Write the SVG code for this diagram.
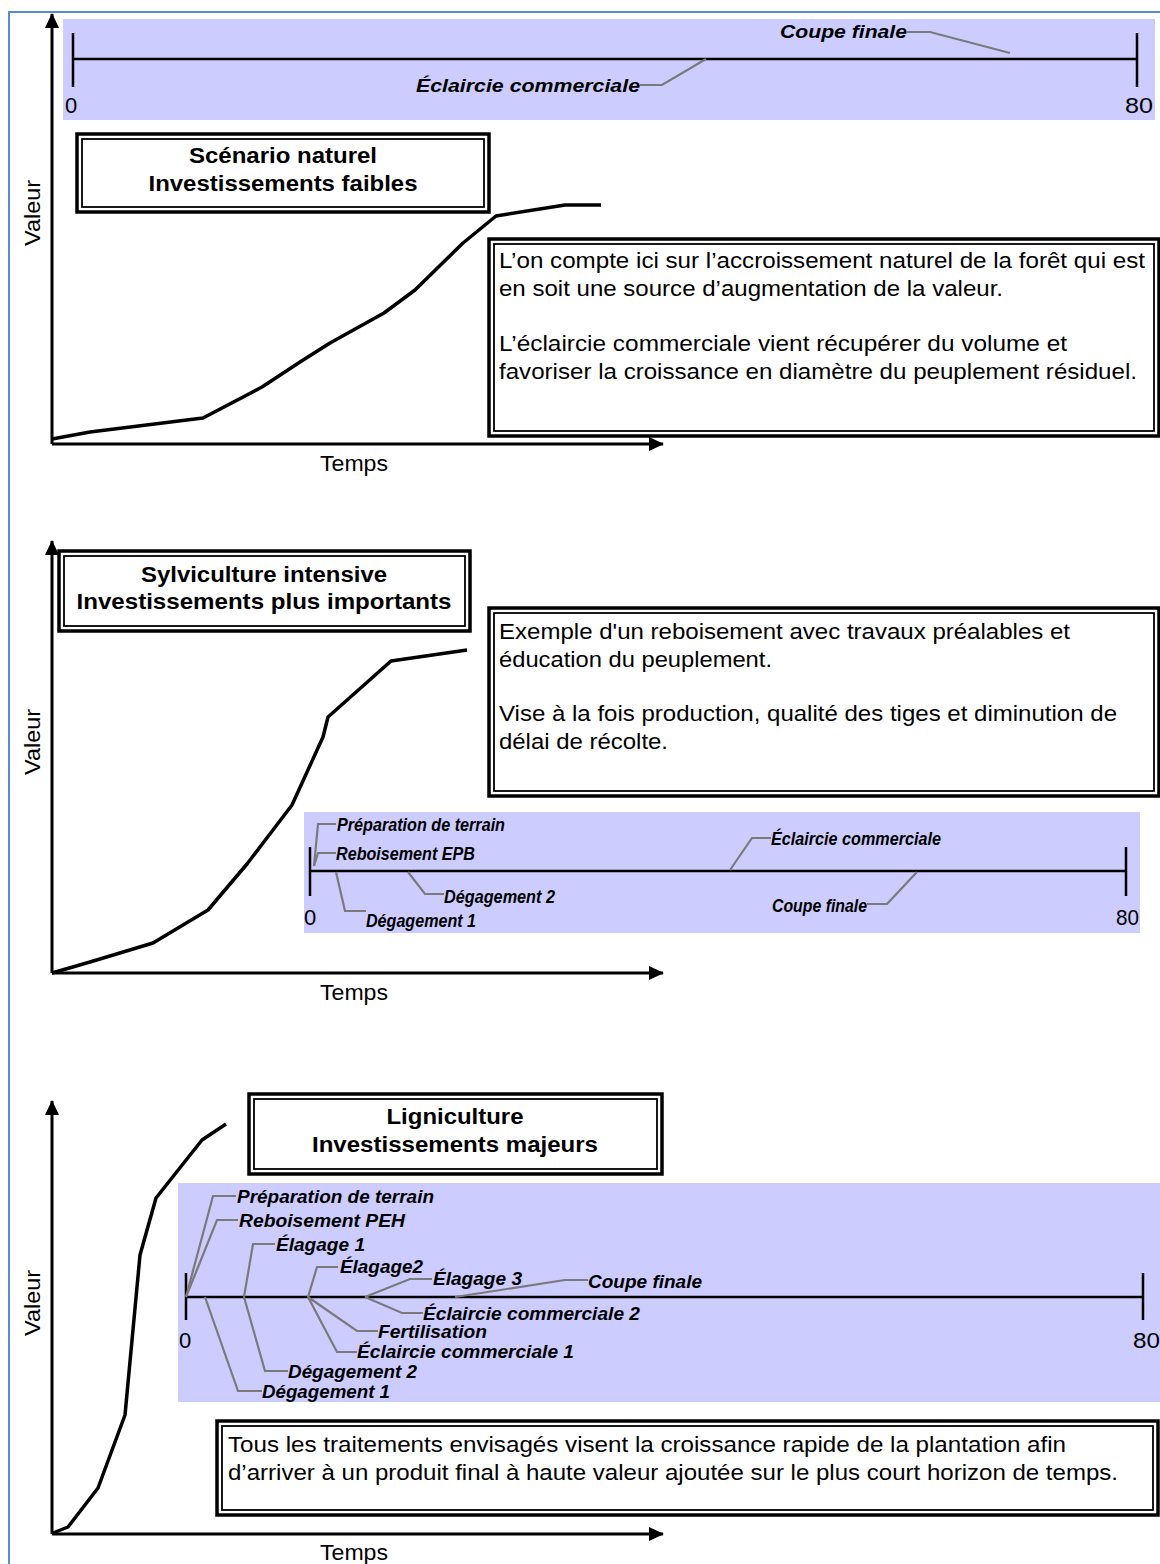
<svg xmlns="http://www.w3.org/2000/svg" width="1160" height="1564" viewBox="0 0 1160 1564">
  <style>
    .frame { stroke: #5b8bd4; stroke-width: 2; fill: none; }
    .axis { stroke: #000; stroke-width: 3; fill: none; }
    .curve { stroke: #000; stroke-width: 3.5; fill: none; stroke-linejoin: round; }
    .band { fill: #ccccff; }
    .tl { stroke: #000; stroke-width: 2.5; fill: none; }
    .lead { stroke: #7a7a7a; stroke-width: 2.2; fill: none; }
    .outer { fill: #fff; stroke: #000; stroke-width: 3.5; }
    .inner { fill: none; stroke: #000; stroke-width: 1.8; }
    .title { font-family: "Liberation Sans", Arial, sans-serif; font-weight: bold; font-size: 22px; fill: #000; text-anchor: middle; }
    .body { font-family: "Liberation Sans", Arial, sans-serif; font-size: 22px; fill: #000; }
    .axlbl { font-family: "Liberation Sans", Arial, sans-serif; font-size: 22px; fill: #000; }
    .num { font-family: "Liberation Sans", Arial, sans-serif; font-size: 22px; fill: #000; }
    .lbl { font-family: "Liberation Sans", Arial, sans-serif; font-weight: bold; font-style: italic; font-size: 18px; fill: #000; }
  </style>
  <defs>
    <marker id="arrow" markerUnits="userSpaceOnUse" markerWidth="16" markerHeight="14" refX="14" refY="7" orient="auto">
      <path d="M0,0 L15,7 L0,14 Z" fill="#000"/>
    </marker>
  </defs>

  <!-- page frame -->
  <path class="frame" d="M9,1564 V12 H1160"/>

  <!-- ===== Panel 1 : natural scenario ===== -->
  <g id="panel1-axes">
    <path class="axis" d="M52,444 V14" marker-end="url(#arrow)"/>
    <path class="axis" d="M52,444 H663" marker-end="url(#arrow)"/>
    <text class="axlbl" transform="translate(40,213) rotate(-90)" text-anchor="middle" textLength="66" lengthAdjust="spacingAndGlyphs">Valeur</text>
    <text class="axlbl" x="320" y="471" textLength="68" lengthAdjust="spacingAndGlyphs">Temps</text>
  </g>
  <g id="panel1-timeline">
    <rect class="band" x="63" y="19" width="1092" height="101"/>
    <path class="tl" d="M73,59 H1137 M73,33 V87 M1137,33 V87"/>
    <text class="num" x="65" y="113">0</text>
    <text class="num" x="1125" y="113" textLength="28" lengthAdjust="spacingAndGlyphs">80</text>
    <g id="p1-coupe">
      <path class="lead" d="M907,32 H930 L1010,53"/>
      <text class="lbl" x="780" y="38" font-size="19" textLength="127" lengthAdjust="spacingAndGlyphs">Coupe finale</text>
    </g>
    <g id="p1-eclaircie">
      <path class="lead" d="M640,85 H662 L706,59"/>
      <text class="lbl" x="416" y="92" font-size="19" textLength="224" lengthAdjust="spacingAndGlyphs">Éclaircie commerciale</text>
    </g>
  </g>
  <g id="panel1-title">
    <rect class="outer" x="77" y="134" width="412" height="78"/>
    <rect class="inner" x="82" y="139" width="402" height="68"/>
    <text class="title" x="283" y="163" textLength="188" lengthAdjust="spacingAndGlyphs">Scénario naturel</text>
    <text class="title" x="283" y="191" textLength="269" lengthAdjust="spacingAndGlyphs">Investissements faibles</text>
  </g>
  <path id="panel1-curve" class="curve" d="M52,439 L90,432 L203,418 L262,387 L300,362 L330,343 L384,313 L415,290 L463,243 L496,216 L565,205 L601,205"/>
  <g id="panel1-note">
    <rect class="outer" x="489" y="239" width="670" height="197"/>
    <rect class="inner" x="494" y="244" width="660" height="187"/>
    <text class="body" x="499" y="268" textLength="646" lengthAdjust="spacingAndGlyphs">L’on compte ici sur l’accroissement naturel de la forêt qui est</text>
    <text class="body" x="499" y="296" textLength="504" lengthAdjust="spacingAndGlyphs">en soit une source d’augmentation de  la valeur.</text>
    <text class="body" x="499" y="351" textLength="568" lengthAdjust="spacingAndGlyphs">L’éclaircie commerciale vient récupérer du volume  et</text>
    <text class="body" x="499" y="379" textLength="638" lengthAdjust="spacingAndGlyphs">favoriser la croissance en diamètre du peuplement  résiduel.</text>
  </g>

  <!-- ===== Panel 2 : intensive silviculture ===== -->
  <g id="panel2-axes">
    <path class="axis" d="M52,973 V541" marker-end="url(#arrow)"/>
    <path class="axis" d="M52,973 H663" marker-end="url(#arrow)"/>
    <text class="axlbl" transform="translate(40,742) rotate(-90)" text-anchor="middle" textLength="66" lengthAdjust="spacingAndGlyphs">Valeur</text>
    <text class="axlbl" x="320" y="1000" textLength="68" lengthAdjust="spacingAndGlyphs">Temps</text>
  </g>
  <g id="panel2-title">
    <rect class="outer" x="59" y="551" width="411" height="80"/>
    <rect class="inner" x="64" y="556" width="401" height="70"/>
    <text class="title" x="264" y="582" textLength="246" lengthAdjust="spacingAndGlyphs">Sylviculture intensive</text>
    <text class="title" x="264" y="609" textLength="375" lengthAdjust="spacingAndGlyphs">Investissements plus importants</text>
  </g>
  <path id="panel2-curve" class="curve" d="M52,973 L90,962 L153,943 L208,910 L247,864 L292,805 L323,737 L328,717 L391,661 L467,650"/>
  <g id="panel2-note">
    <rect class="outer" x="489" y="608" width="670" height="188"/>
    <rect class="inner" x="494" y="613" width="660" height="178"/>
    <text class="body" x="499" y="639" textLength="571" lengthAdjust="spacingAndGlyphs">Exemple d'un  reboisement avec travaux préalables et</text>
    <text class="body" x="499" y="667" textLength="273" lengthAdjust="spacingAndGlyphs">éducation du peuplement.</text>
    <text class="body" x="499" y="721" textLength="618" lengthAdjust="spacingAndGlyphs">Vise à la fois production, qualité des tiges et diminution de</text>
    <text class="body" x="499" y="749" textLength="169" lengthAdjust="spacingAndGlyphs">délai de récolte.</text>
  </g>
  <g id="panel2-timeline">
    <rect class="band" x="304" y="812" width="836" height="121"/>
    <path class="tl" d="M310,871 H1126 M310,847 V896 M1126,847 V896"/>
    <text class="num" x="304" y="925" font-size="20">0</text>
    <text class="num" x="1116" y="925" font-size="20" textLength="23" lengthAdjust="spacingAndGlyphs">80</text>
    <g id="p2-preparation">
      <path class="lead" d="M336,824 H318 L314,866"/>
      <text class="lbl" x="337" y="831" textLength="168" lengthAdjust="spacingAndGlyphs">Préparation de terrain</text>
    </g>
    <g id="p2-reboisement">
      <path class="lead" d="M336,853 H318 L314,866"/>
      <text class="lbl" x="336" y="860" textLength="139" lengthAdjust="spacingAndGlyphs">Reboisement EPB</text>
    </g>
    <g id="p2-degagement1">
      <path class="lead" d="M336,872 L345,911 H366"/>
      <text class="lbl" x="366" y="927" textLength="110" lengthAdjust="spacingAndGlyphs">Dégagement 1</text>
    </g>
    <g id="p2-degagement2">
      <path class="lead" d="M408,872 L425,894 H444"/>
      <text class="lbl" x="444" y="903" textLength="111" lengthAdjust="spacingAndGlyphs">Dégagement 2</text>
    </g>
    <g id="p2-eclaircie">
      <path class="lead" d="M730,870 L752,838 H771"/>
      <text class="lbl" x="771" y="845" textLength="170" lengthAdjust="spacingAndGlyphs">Éclaircie commerciale</text>
    </g>
    <g id="p2-coupe">
      <path class="lead" d="M867,904 H887 L917,872"/>
      <text class="lbl" x="772" y="912" textLength="95" lengthAdjust="spacingAndGlyphs">Coupe finale</text>
    </g>
  </g>

  <!-- ===== Panel 3 : ligniculture ===== -->
  <g id="panel3-axes">
    <path class="axis" d="M52,1534 V1101" marker-end="url(#arrow)"/>
    <path class="axis" d="M52,1534 H663" marker-end="url(#arrow)"/>
    <text class="axlbl" transform="translate(40,1303) rotate(-90)" text-anchor="middle" textLength="66" lengthAdjust="spacingAndGlyphs">Valeur</text>
    <text class="axlbl" x="320" y="1560" textLength="68" lengthAdjust="spacingAndGlyphs">Temps</text>
  </g>
  <path id="panel3-curve" class="curve" d="M53,1533 L68,1527 L98,1488 L125,1415 L140,1255 L156,1198 L202,1140 L226,1124"/>
  <g id="panel3-title">
    <rect class="outer" x="249" y="1094" width="413" height="80"/>
    <rect class="inner" x="254" y="1099" width="403" height="70"/>
    <text class="title" x="455" y="1124" textLength="137" lengthAdjust="spacingAndGlyphs">Ligniculture</text>
    <text class="title" x="455" y="1152" textLength="286" lengthAdjust="spacingAndGlyphs">Investissements majeurs</text>
  </g>
  <g id="panel3-timeline">
    <rect class="band" x="178" y="1183" width="982" height="219"/>
    <path class="tl" d="M186,1297 H1143 M186,1273 V1320 M1143,1273 V1320"/>
    <text class="num" x="179" y="1348">0</text>
    <text class="num" x="1133" y="1348" textLength="27" lengthAdjust="spacingAndGlyphs">80</text>
    <g id="p3-preparation">
      <path class="lead" d="M236,1196 H213 L186,1297"/>
      <text class="lbl" x="237" y="1203" font-size="17" textLength="197" lengthAdjust="spacingAndGlyphs">Préparation de terrain</text>
    </g>
    <g id="p3-reboisement">
      <path class="lead" d="M238,1220 H217 L186,1297"/>
      <text class="lbl" x="239" y="1227" font-size="17" textLength="166" lengthAdjust="spacingAndGlyphs">Reboisement PEH</text>
    </g>
    <g id="p3-elagage1">
      <path class="lead" d="M275,1244 H253 L244,1297"/>
      <text class="lbl" x="276" y="1251" font-size="17" textLength="89" lengthAdjust="spacingAndGlyphs">Élagage 1</text>
    </g>
    <g id="p3-elagage2">
      <path class="lead" d="M338,1267 H317 L308,1297"/>
      <text class="lbl" x="340" y="1273" font-size="17" textLength="83" lengthAdjust="spacingAndGlyphs">Élagage2</text>
    </g>
    <g id="p3-elagage3">
      <path class="lead" d="M432,1279 H410 L365,1297"/>
      <text class="lbl" x="433" y="1285" font-size="17" textLength="89" lengthAdjust="spacingAndGlyphs">Élagage 3</text>
    </g>
    <g id="p3-coupe">
      <path class="lead" d="M588,1280 H565 L455,1297"/>
      <text class="lbl" x="588" y="1288" font-size="17" textLength="114" lengthAdjust="spacingAndGlyphs">Coupe finale</text>
    </g>
    <g id="p3-eclaircie2">
      <path class="lead" d="M365,1297 L402,1313 H423"/>
      <text class="lbl" x="423" y="1320" font-size="17" textLength="217" lengthAdjust="spacingAndGlyphs">Éclaircie commerciale 2</text>
    </g>
    <g id="p3-fertilisation">
      <path class="lead" d="M308,1297 L357,1331 H378"/>
      <text class="lbl" x="378" y="1338" font-size="17" textLength="109" lengthAdjust="spacingAndGlyphs">Fertilisation</text>
    </g>
    <g id="p3-eclaircie1">
      <path class="lead" d="M308,1297 L337,1352 H357"/>
      <text class="lbl" x="357" y="1358" font-size="17" textLength="217" lengthAdjust="spacingAndGlyphs">Éclaircie commerciale 1</text>
    </g>
    <g id="p3-degagement2">
      <path class="lead" d="M244,1297 L265,1371 H288"/>
      <text class="lbl" x="288" y="1378" font-size="17" textLength="129" lengthAdjust="spacingAndGlyphs">Dégagement 2</text>
    </g>
    <g id="p3-degagement1">
      <path class="lead" d="M205,1297 L238,1391 H262"/>
      <text class="lbl" x="262" y="1398" font-size="17" textLength="128" lengthAdjust="spacingAndGlyphs">Dégagement 1</text>
    </g>
  </g>
  <g id="panel3-note">
    <rect class="outer" x="217" y="1421" width="941" height="94"/>
    <rect class="inner" x="222" y="1426" width="931" height="84"/>
    <text class="body" x="228" y="1452" textLength="838" lengthAdjust="spacingAndGlyphs">Tous les traitements envisagés visent la croissance rapide de  la plantation afin</text>
    <text class="body" x="228" y="1480" textLength="890" lengthAdjust="spacingAndGlyphs">d’arriver à un produit final à haute valeur ajoutée sur le plus court horizon de temps.</text>
  </g>
</svg>
